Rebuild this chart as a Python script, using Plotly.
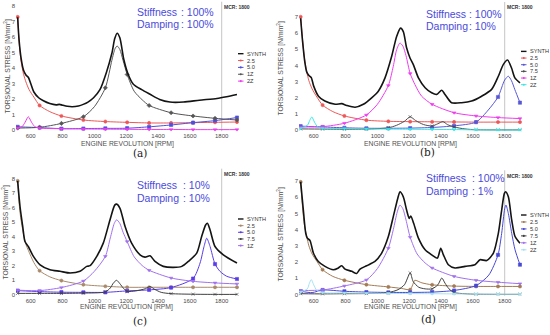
import numpy as np
import plotly.graph_objects as go

# ---------------- data ----------------
MARK_RPM = [518, 656, 793, 931, 1069, 1206, 1344, 1482, 1620, 1758, 1896]
X_TICKS = [600, 800, 1000, 1200, 1400, 1600, 1800]
MCR_RPM = 1800
STIFFNESS = ["100%", "100%", "10%", "100%"]
DAMPING = ["100%", "10%", "10%", "1%"]
PANEL_LABELS = ["(a)", "(b)", "(c)", "(d)"]

# panel (a)
A_SYNTH_RPM = [518, 527, 540, 555, 570, 585, 600, 620, 650, 680, 720, 760, 780, 800, 830, 860, 900, 930, 960, 995, 1035, 1075, 1110, 1128, 1143, 1160, 1185, 1212, 1245, 1297, 1350, 1410, 1475, 1560, 1660, 1770, 1830, 1896]
A_SYNTH = [7.28, 5.8, 4.6, 3.85, 3.55, 3.4, 3.0, 2.45, 2.08, 1.88, 1.7, 1.62, 1.65, 1.6, 1.53, 1.5, 1.55, 1.65, 1.8, 2.08, 2.6, 3.7, 4.95, 5.9, 6.25, 5.95, 4.55, 3.6, 2.95, 2.6, 2.3, 1.97, 1.8, 1.8, 1.92, 2.03, 2.14, 2.29]
A_O25_RPM = [518, 527, 540, 555, 570, 590, 620, 656, 720, 793, 931, 1069, 1206, 1344, 1482, 1620, 1758, 1896]
A_O25 = [7.3, 5.7, 4.4, 3.6, 3.1, 2.6, 2.12, 1.58, 1.18, 0.9, 0.64, 0.54, 0.49, 0.45, 0.45, 0.47, 0.49, 0.51]
A_O50_RPM = [518, 656, 793, 931, 1069, 1206, 1344, 1482, 1620, 1758, 1896]
A_O50 = [0.2, 0.15, 0.08, 0.09, 0.1, 0.11, 0.2, 0.32, 0.47, 0.6, 0.8]
A_1Z_RPM = [518, 656, 793, 931, 1000, 1069, 1110, 1130, 1143, 1160, 1180, 1206, 1250, 1300, 1344, 1482, 1620, 1758, 1896]
A_1Z = [0.12, 0.17, 0.42, 0.85, 1.5, 2.72, 4.5, 5.25, 5.42, 5.2, 4.5, 3.58, 2.5, 1.95, 1.58, 1.11, 0.9, 0.75, 0.64]
A_2Z_RPM = [518, 545, 565, 585, 605, 625, 656, 793, 931, 1069, 1206, 1344, 1482, 1620, 1758, 1896]
A_2Z = [0.12, 0.2, 0.5, 0.85, 0.5, 0.22, 0.12, 0.08, 0.06, 0.05, 0.04, 0.03, 0.03, 0.02, 0.02, 0.02]

# panel (b)
B_SYNTH_RPM = [518, 530, 545, 556, 570, 585, 600, 630, 670, 735, 776, 807, 860, 912, 964, 1006, 1048, 1090, 1121, 1146, 1163, 1184, 1205, 1226, 1258, 1300, 1341, 1373, 1404, 1425, 1466, 1529, 1592, 1655, 1718, 1760, 1791, 1818, 1843, 1864, 1896]
B_SYNTH = [6.91, 5.5, 4.15, 3.6, 3.38, 3.25, 2.72, 2.1, 1.8, 1.6, 1.64, 1.53, 1.42, 1.6, 2.0, 2.41, 3.23, 4.56, 5.79, 6.3, 6.09, 5.07, 4.46, 4.05, 3.23, 2.62, 2.31, 2.21, 2.47, 2.21, 1.7, 1.7, 1.8, 2.1, 2.52, 3.33, 4.05, 4.33, 3.84, 3.23, 2.92]
B_O25_RPM = [518, 528, 540, 556, 570, 590, 620, 656, 720, 793, 931, 1069, 1206, 1344, 1482, 1620, 1758, 1896]
B_O25 = [7.0, 5.8, 4.6, 3.6, 3.05, 2.55, 2.05, 1.55, 1.15, 0.88, 0.62, 0.55, 0.53, 0.52, 0.51, 0.5, 0.5, 0.5]
B_O50_RPM = [518, 656, 793, 931, 1069, 1206, 1344, 1482, 1620, 1697, 1758, 1800, 1823, 1843, 1864, 1896]
B_O50 = [0.25, 0.2, 0.15, 0.12, 0.12, 0.13, 0.17, 0.27, 0.5, 1.25, 2.05, 3.1, 3.33, 3.05, 2.5, 1.7]
B_O75_RPM = [518, 656, 793, 931, 1069, 1120, 1170, 1206, 1240, 1290, 1344, 1380, 1412, 1440, 1482, 1550, 1620, 1758, 1896]
B_O75 = [0.08, 0.07, 0.06, 0.07, 0.15, 0.3, 0.55, 0.83, 0.6, 0.35, 0.26, 0.4, 0.53, 0.35, 0.2, 0.08, 0.03, 0.02, 0.02]
B_1Z_RPM = [518, 656, 793, 931, 1000, 1069, 1100, 1121, 1142, 1160, 1180, 1206, 1236, 1278, 1344, 1482, 1620, 1758, 1896]
B_1Z = [0.2, 0.22, 0.43, 0.94, 1.6, 2.76, 3.95, 4.97, 5.38, 5.2, 4.6, 3.5, 2.82, 2.1, 1.6, 1.08, 0.88, 0.78, 0.72]
B_2Z_RPM = [518, 560, 575, 588, 605, 625, 656, 793, 931, 1069, 1206, 1344, 1482, 1620, 1758, 1896]
B_2Z = [0.12, 0.3, 0.6, 0.82, 0.5, 0.2, 0.12, 0.1, 0.08, 0.07, 0.06, 0.05, 0.04, 0.02, 0.01, 0.01]

# panel (c)
C_SYNTH_RPM = [518, 533, 550, 564, 585, 617, 659, 721, 784, 847, 910, 952, 973, 1015, 1056, 1098, 1128, 1140, 1161, 1193, 1234, 1287, 1318, 1350, 1381, 1433, 1496, 1549, 1590, 1643, 1674, 1699, 1710, 1727, 1758, 1810, 1896]
C_SYNTH = [7.83, 6.05, 4.68, 3.65, 3.31, 2.63, 2.05, 1.71, 1.6, 1.48, 1.6, 1.94, 1.99, 2.63, 3.54, 5.14, 6.16, 6.23, 5.94, 4.68, 3.54, 2.74, 2.58, 2.67, 2.28, 1.94, 1.87, 1.94, 2.28, 2.85, 4.0, 4.79, 4.91, 4.45, 3.31, 2.74, 2.17]
C_O25_RPM = [518, 527, 537, 554, 570, 585, 620, 656, 720, 793, 931, 1069, 1206, 1344, 1482, 1620, 1758, 1896]
C_O25 = [7.83, 6.3, 5.3, 4.2, 3.45, 3.05, 2.2, 1.64, 1.22, 0.96, 0.68, 0.57, 0.5, 0.5, 0.5, 0.5, 0.5, 0.5]
C_O50_RPM = [518, 656, 793, 931, 1069, 1206, 1344, 1482, 1620, 1664, 1689, 1706, 1727, 1758, 1789, 1831, 1896]
C_O50 = [0.27, 0.2, 0.16, 0.15, 0.15, 0.25, 0.32, 0.48, 1.1, 2.17, 3.31, 3.88, 3.31, 2.1, 1.6, 1.26, 1.07]
C_O75_RPM = [518, 656, 793, 931, 1069, 1100, 1120, 1140, 1160, 1185, 1206, 1260, 1320, 1350, 1380, 1420, 1482, 1620, 1758, 1896]
C_O75 = [0.08, 0.08, 0.08, 0.1, 0.18, 0.45, 0.8, 0.98, 0.75, 0.4, 0.22, 0.25, 0.4, 0.55, 0.35, 0.15, 0.06, 0.02, 0.01, 0.01]
C_1Z_RPM = [518, 656, 793, 931, 1000, 1069, 1100, 1125, 1140, 1160, 1180, 1206, 1250, 1300, 1344, 1482, 1620, 1758, 1896]
C_1Z = [0.3, 0.27, 0.48, 0.93, 1.6, 2.63, 3.9, 4.9, 5.15, 4.9, 4.3, 3.65, 2.6, 2.0, 1.67, 1.14, 0.91, 0.8, 0.73]

# panel (d)
D_SYNTH_RPM = [518, 535, 550, 560, 577, 598, 629, 671, 723, 755, 776, 797, 839, 870, 891, 933, 985, 1027, 1069, 1100, 1128, 1142, 1163, 1184, 1200, 1210, 1228, 1258, 1300, 1341, 1377, 1398, 1415, 1446, 1488, 1551, 1613, 1645, 1687, 1729, 1760, 1781, 1798, 1806, 1823, 1844, 1865, 1896]
D_SYNTH = [6.95, 5.21, 3.78, 3.48, 3.33, 2.56, 2.04, 1.74, 1.53, 1.64, 1.78, 1.57, 1.43, 1.3, 1.57, 1.78, 2.04, 2.56, 3.58, 4.81, 5.93, 6.34, 6.03, 5.2, 4.7, 4.85, 4.4, 3.48, 2.76, 2.45, 2.25, 2.86, 2.45, 1.84, 1.64, 1.74, 1.84, 2.15, 2.1, 2.56, 3.78, 5.21, 6.24, 6.34, 6.03, 4.6, 3.58, 3.17]
D_O25_RPM = [518, 528, 540, 556, 570, 590, 620, 656, 720, 793, 931, 1069, 1150, 1206, 1222, 1235, 1280, 1344, 1482, 1620, 1758, 1896]
D_O25 = [6.95, 5.6, 4.4, 3.58, 3.0, 2.5, 2.05, 1.53, 1.12, 0.88, 0.61, 0.47, 0.38, 0.3, 0.6, 0.88, 0.72, 0.6, 0.52, 0.5, 0.5, 0.5]
D_O50_RPM = [518, 590, 656, 793, 931, 1069, 1206, 1344, 1482, 1620, 1700, 1758, 1781, 1800, 1808, 1823, 1844, 1865, 1896]
D_O50 = [0.2, 0.12, 0.28, 0.2, 0.15, 0.13, 0.13, 0.15, 0.25, 0.55, 1.2, 2.45, 3.78, 5.3, 5.52, 5.0, 3.78, 2.76, 1.84]
D_O75_RPM = [518, 656, 793, 931, 1069, 1130, 1170, 1206, 1225, 1260, 1300, 1344, 1380, 1405, 1425, 1450, 1482, 1550, 1620, 1758, 1896]
D_O75 = [0.05, 0.04, 0.05, 0.06, 0.12, 0.3, 0.6, 1.33, 0.8, 0.45, 0.35, 0.35, 0.6, 1.02, 0.7, 0.35, 0.12, 0.05, 0.02, 0.01, 0.01]
D_1Z_RPM = [518, 656, 793, 931, 1000, 1069, 1100, 1125, 1142, 1160, 1180, 1206, 1250, 1300, 1344, 1482, 1620, 1758, 1896]
D_1Z = [0.25, 0.28, 0.53, 0.9, 1.6, 2.86, 4.0, 5.1, 5.52, 5.3, 4.6, 3.54, 2.5, 1.95, 1.64, 1.12, 0.88, 0.76, 0.67]
D_2Z_RPM = [518, 560, 573, 585, 600, 620, 656, 793, 931, 1069, 1206, 1344, 1482, 1620, 1758, 1896]
D_2Z = [0.15, 0.35, 0.7, 0.92, 0.6, 0.25, 0.12, 0.1, 0.08, 0.07, 0.06, 0.05, 0.04, 0.03, 0.02, 0.02]

# ---------------- styling / layout ----------------
W, H = 550, 335
FONT = "Liberation Sans, Arial, sans-serif"
def px(x): return x / W
def py(y): return 1 - y / H

# (name, rpm, values, colour, symbol)
SERIES = [
    [("SYNTH", A_SYNTH_RPM, A_SYNTH, "#141414", None),
     ("2.5", A_O25_RPM, A_O25, "#ee5757", "circle"),
     ("5.0", A_O50_RPM, A_O50, "#4f4fdc", "square"),
     ("1Z", A_1Z_RPM, A_1Z, "#555555", "diamond"),
     ("2Z", A_2Z_RPM, A_2Z, "#ee3cee", "triangle-down")],
    [("SYNTH", B_SYNTH_RPM, B_SYNTH, "#141414", None),
     ("2.5", B_O25_RPM, B_O25, "#ee5757", "circle"),
     ("5.0", B_O50_RPM, B_O50, "#5757d6", "square"),
     ("7.5", B_O75_RPM, B_O75, "#4c4c4c", "x-thin-open"),
     ("1Z", B_1Z_RPM, B_1Z, "#ee3cee", "triangle-down"),
     ("2Z", B_2Z_RPM, B_2Z, "#3ce6e6", "triangle-down")],
    [("SYNTH", C_SYNTH_RPM, C_SYNTH, "#141414", None),
     ("2.5", C_O25_RPM, C_O25, "#a8896a", "circle"),
     ("5.0", C_O50_RPM, C_O50, "#5a3ce6", "square"),
     ("7.5", C_O75_RPM, C_O75, "#3f3f3f", "x-thin-open"),
     ("1Z", C_1Z_RPM, C_1Z, "#a070ee", "triangle-down")],
    [("SYNTH", D_SYNTH_RPM, D_SYNTH, "#141414", None),
     ("2.5", D_O25_RPM, D_O25, "#a37b55", "circle"),
     ("5.0", D_O50_RPM, D_O50, "#4848d6", "square"),
     ("7.5", D_O75_RPM, D_O75, "#3f3f3f", "x-thin-open"),
     ("1Z", D_1Z_RPM, D_1Z, "#a070ee", "triangle-down"),
     ("2Z", D_2Z_RPM, D_2Z, "#a4e2f2", "triangle-down")],
]

# pixel geometry of each panel
GEOM = [
    dict(x0=16, x1=239, ytop=1.7, ybot=132, yzero=130.7, yscale=15.57, ymax_tick=8,
         title=(127, 145.2), ytitle=(7.3, 66.7), lab=(140, 153.5),
         stiff=(135, 180, 11.7, 24.0), leg=(238, 54.0, 6.9)),
    dict(x0=299, x1=522, ytop=2.0, ybot=132, yzero=131.0, yscale=16.3, ymax_tick=7,
         title=(410, 145.2), ytitle=(281, 69), lab=(427.7, 152.5),
         stiff=(424, 467.5, 14.0, 26.0), leg=(521, 51.7, 6.7)),
    dict(x0=16, x1=239, ytop=169.7, ybot=297.5, yzero=296.3, yscale=14.6, ymax_tick=8,
         title=(126.7, 309.2), ytitle=(6.0, 234), lab=(140, 323),
         stiff=(135, 181.5, 186.3, 199.0), leg=(238, 220.3, 6.7)),
    dict(x0=299, x1=522, ytop=171.3, ybot=297.5, yzero=296.3, yscale=16.3, ymax_tick=7,
         title=(410, 309.2), ytitle=(281, 236), lab=(428.3, 320.5),
         stiff=(424, 471, 179.0, 192.0), leg=(521, 216.3, 7.0)),
]
RPM_PER_PX = 1 / 0.15917
X_AT_LEFT = 600 - 14.7 * RPM_PER_PX  # rpm at left edge of plot area

fig = go.Figure()
layout = dict(width=W, height=H, margin=dict(l=0, r=0, t=0, b=0),
              paper_bgcolor="white", plot_bgcolor="white", showlegend=False)
annotations, shapes = [], []
MARKS = set(MARK_RPM)

for i, (series, g) in enumerate(zip(SERIES, GEOM)):
    sfx = "" if i == 0 else str(i + 1)
    xa, ya = "x" + sfx, "y" + sfx
    width_px = g["x1"] - g["x0"]
    xr = [X_AT_LEFT, X_AT_LEFT + width_px * RPM_PER_PX]
    yr = [-(g["ybot"] - g["yzero"]) / g["yscale"], (g["yzero"] - g["ytop"]) / g["yscale"]]
    axfont = dict(size=6, color="#4a4a4a", family=FONT)
    layout["xaxis" + sfx] = dict(domain=[px(g["x0"]), px(g["x1"])], range=xr, anchor=ya,
                                 tickvals=X_TICKS, showgrid=False, zeroline=False,
                                 showline=False, ticks="", tickfont=axfont, fixedrange=True)
    layout["yaxis" + sfx] = dict(domain=[py(g["ybot"]), py(g["ytop"])], range=yr, anchor=xa,
                                 tickvals=list(range(0, g["ymax_tick"] + 1)), showgrid=False,
                                 zeroline=False, showline=False, ticks="", tickfont=axfont,
                                 fixedrange=True)
    # MCR line
    shapes.append(dict(type="line", xref=xa, yref=ya + " domain", x0=MCR_RPM, x1=MCR_RPM,
                       y0=0, y1=1, line=dict(color="#c6c6c6", width=1), layer="below"))
    annotations.append(dict(x=MCR_RPM, y=py(g["ytop"] + 5.5), xref=xa, yref="paper",
                            text="<b>MCR: 1800</b>", showarrow=False, xanchor="left",
                            xshift=0.5, yanchor="middle",
                            font=dict(size=5, color="#333333", family=FONT)))
    # traces
    for name, rpm, val, col, sym in series[1:] + series[:1]:
        is_syn = sym is None
        fig.add_trace(go.Scatter(x=rpm, y=val, xaxis=xa, yaxis=ya, mode="lines",
                                 line=dict(color=col, width=1.6 if is_syn else 1.0,
                                           shape="spline", smoothing=0.7),
                                 hoverinfo="skip"))
        if not is_syn:
            mx = [r for r in rpm if r in MARKS]
            my = [v for r, v in zip(rpm, val) if r in MARKS]
            fig.add_trace(go.Scatter(x=mx, y=my, xaxis=xa, yaxis=ya, mode="markers",
                                     marker=dict(color=col, size=3.2, symbol=sym,
                                                 line=dict(color=col, width=0.6)),
                                     hoverinfo="skip"))
    # custom compact legend
    lx, ly, dy = g["leg"]
    for k, (name, rpm, val, col, sym) in enumerate(series):
        yy = ly + k * dy
        shapes.append(dict(type="line", xref="paper", yref="paper", x0=px(lx), x1=px(lx + 5.5),
                           y0=py(yy), y1=py(yy),
                           line=dict(color=col, width=1.4 if sym is None else 1.0)))
        if sym is not None:
            shapes.append(dict(type="circle", xref="paper", yref="paper",
                               x0=px(lx + 1.7), x1=px(lx + 3.8), y0=py(yy + 1.05), y1=py(yy - 1.05),
                               fillcolor=col, line=dict(width=0)))
        annotations.append(dict(x=px(lx + 6.5), y=py(yy), xref="paper", yref="paper",
                                text=name, showarrow=False, xanchor="left", yanchor="middle",
                                font=dict(size=5.6, color="#333333", family=FONT)))
    # axis titles
    tx, ty = g["title"]
    annotations.append(dict(x=px(tx), y=py(ty), xref="paper", yref="paper",
                            text="ENGINE REVOLUTION [RPM]", showarrow=False,
                            xanchor="center", yanchor="middle",
                            font=dict(size=6.8, color="#505050", family=FONT)))
    yx, yy0 = g["ytitle"]
    annotations.append(dict(x=px(yx), y=py(yy0), xref="paper", yref="paper",
                            text="TORSIONAL STRESS [N/mm<sup>2</sup>]", showarrow=False,
                            textangle=-90, xanchor="center", yanchor="middle",
                            font=dict(size=6.8, color="#505050", family=FONT)))
    # panel label
    lbx, lby = g["lab"]
    annotations.append(dict(x=px(lbx), y=py(lby), xref="paper", yref="paper",
                            text=PANEL_LABELS[i], showarrow=False, xanchor="center",
                            yanchor="middle",
                            font=dict(size=10.5, color="#222222", family="DejaVu Serif, serif")))
    # stiffness / damping text
    sx, cx, sy1, sy2 = g["stiff"]
    blue = "#4b4bdc"
    for lbl, val_txt, yy in (("Stiffness", STIFFNESS[i], sy1), ("Damping", DAMPING[i], sy2)):
        annotations.append(dict(x=px(sx), y=py(yy), xref="paper", yref="paper", text=lbl,
                                showarrow=False, xanchor="left", yanchor="middle",
                                font=dict(size=10.5, color=blue, family=FONT)))
        annotations.append(dict(x=px(cx - 1), y=py(yy), xref="paper", yref="paper",
                                text=": " + val_txt, showarrow=False, xanchor="left",
                                yanchor="middle",
                                font=dict(size=10.5, color=blue, family=FONT)))

layout["annotations"] = annotations
layout["shapes"] = shapes
fig.update_layout(**layout)
fig.write_html("out.html",
               config={"displayModeBar": False, "staticPlot": True},
               post_script="document.body.style.margin='0px';document.body.style.padding='0px';"
                           "window.dispatchEvent(new Event('resize'));")
